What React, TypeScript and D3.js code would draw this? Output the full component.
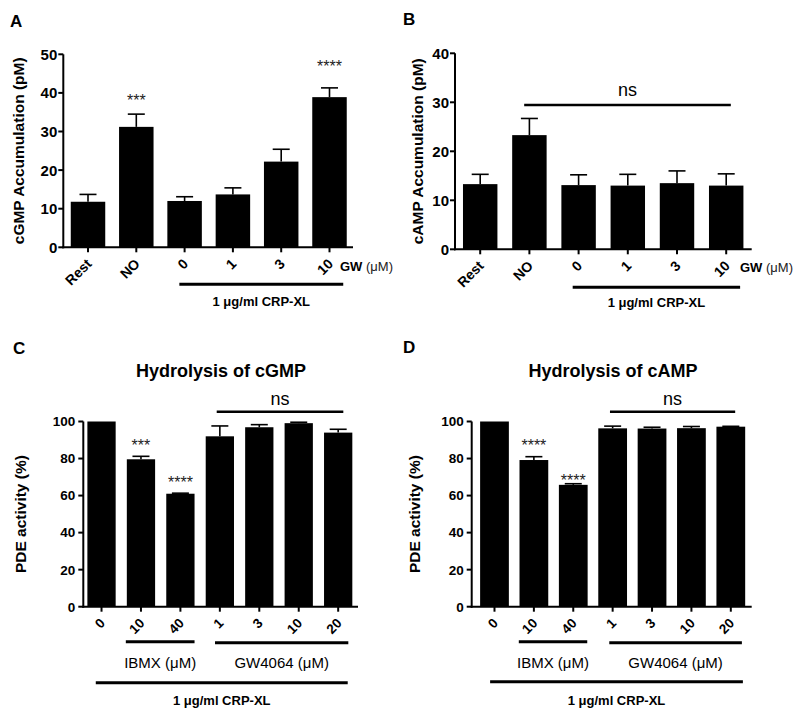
import React from "react";
import * as d3 from "d3";

// ---------- DATA ----------
const catsA = ["Rest", "NO", "0", "1", "3", "10"];
const valsA = [11.8, 31.2, 12.0, 13.7, 22.2, 38.9];
const errsA = [1.9, 3.3, 1.1, 1.7, 3.2, 2.4];
const starsA = ["", "***", "", "", "", "****"];
const starYA = [0, 36.6, 0, 0, 0, 45.3];
const ticksA = [0, 10, 20, 30, 40, 50];

const catsB = ["Rest", "NO", "0", "1", "3", "10"];
const valsB = [13.3, 23.3, 13.1, 13.0, 13.5, 13.0];
const errsB = [2.0, 3.4, 2.1, 2.3, 2.5, 2.4];
const ticksB = [0, 10, 20, 30, 40];

const catsC = ["0", "10", "40", "1", "3", "10", "20"];
const valsC = [100, 79.6, 61.0, 92.0, 96.9, 99.1, 94.0];
const errsC = [0, 1.6, 0.3, 5.6, 1.4, 0.5, 1.8];
const starsC = ["", "***", "****", "", "", "", ""];
const starYC = [0, 84.1, 64.1, 0, 0, 0, 0];

const catsD = ["0", "10", "40", "1", "3", "10", "20"];
const valsD = [100, 79.2, 65.8, 96.3, 96.2, 96.4, 97.2];
const errsD = [0, 1.8, 0.6, 1.2, 0.7, 0.9, 0.2];
const starsD = ["", "****", "****", "", "", "", ""];
const starYD = [0, 83.9, 65.3, 0, 0, 0, 0];
const ticksCD = [0, 20, 40, 60, 80, 100];

const MU = "\u03BC";
const CRP_LABEL = `1 ${MU}g/ml CRP-XL`;
const IBMX_LABEL = `IBMX (${MU}M)`;
const GW4064_LABEL = `GW4064 (${MU}M)`;
const GW_UNIT = `(${MU}M)`;

const FONT = "'Liberation Sans', Arial, Helvetica, sans-serif";

type Bracket = {
  from: number;
  to: number;
  dx0: number;
  dx1: number;
  y: number;
  w: number;
  label?: string;
  labelY?: number;
  bold?: boolean;
  size?: number;
};

type Panel = {
  letter: string;
  letterX: number;
  letterY: number;
  cats: string[];
  vals: number[];
  errs: number[];
  stars?: string[];
  starY?: number[];
  ticks: number[];
  yMax: number;
  axisX: number;
  axisEnd: number;
  y0: number;
  yTop: number;
  band: [number, number];
  pad: number;
  yLabel: string;
  yLabelX: number;
  title?: string;
  titleX?: number;
  titleY?: number;
  ns?: { from: number; to: number; dx0: number; dx1: number; v: number; labelDy: number };
  brackets: Bracket[];
  gwLabel?: { x: number; y: number };
  tickFont: number;
  xTickFont: number;
  tickGap: number;
};

const panels: Panel[] = [
  {
    letter: "A",
    letterX: 10,
    letterY: 27,
    cats: catsA,
    vals: valsA,
    errs: errsA,
    stars: starsA,
    starY: starYA,
    ticks: ticksA,
    yMax: 50,
    axisX: 63.3,
    axisEnd: 353,
    y0: 247.3,
    yTop: 54.3,
    band: [63.85, 353.65],
    pad: 0.286,
    yLabel: "cGMP Accumulation (pM)",
    yLabelX: 23.5,
    brackets: [
      { from: 2, to: 5, dx0: 12, dx1: -3.5, y: 284.3, w: 3, label: CRP_LABEL, labelY: 306, bold: true, size: 13 },
    ],
    gwLabel: { x: 340, y: 271 },
    tickFont: 15,
    xTickFont: 14,
    tickGap: 6,
  },
  {
    letter: "B",
    letterX: 403,
    letterY: 25,
    cats: catsB,
    vals: valsB,
    errs: errsB,
    ticks: ticksB,
    yMax: 40,
    axisX: 455,
    axisEnd: 751.7,
    y0: 249.3,
    yTop: 53.3,
    band: [455.6, 750.8],
    pad: 0.3,
    yLabel: "cAMP Accumulation (pM)",
    yLabelX: 423,
    ns: { from: 1, to: 5, dx0: 12, dx1: -12.6, v: 29.45, labelDy: -8.5 },
    brackets: [
      { from: 2, to: 5, dx0: 11.3, dx1: -3.3, y: 287.3, w: 3, label: CRP_LABEL, labelY: 307, bold: true, size: 13 },
    ],
    gwLabel: { x: 740, y: 272 },
    tickFont: 15,
    xTickFont: 14,
    tickGap: 6,
  },
  {
    letter: "C",
    letterX: 13,
    letterY: 354,
    cats: catsC,
    vals: valsC,
    errs: errsC,
    stars: starsC,
    starY: starYC,
    ticks: ticksCD,
    yMax: 100,
    axisX: 83.3,
    axisEnd: 358,
    y0: 606.7,
    yTop: 421.5,
    band: [81.8, 357.9],
    pad: 0.283,
    yLabel: "PDE activity (%)",
    yLabelX: 26,
    title: "Hydrolysis of cGMP",
    titleX: 221,
    titleY: 377,
    ns: { from: 3, to: 6, dx0: 11, dx1: -9, v: 105.3, labelDy: -6.7 },
    brackets: [
      { from: 1, to: 2, dx0: -1, dx1: 0, y: 641.7, w: 3, label: IBMX_LABEL, labelY: 668, bold: false, size: 15 },
      { from: 3, to: 6, dx0: 9.3, dx1: -4, y: 642.7, w: 3, label: GW4064_LABEL, labelY: 668, bold: false, size: 15 },
      { from: 0, to: 6, dx0: 8.4, dx1: -4.6, y: 682.7, w: 3, label: CRP_LABEL, labelY: 704.5, bold: true, size: 13 },
    ],
    tickFont: 13.5,
    xTickFont: 13.5,
    tickGap: 8,
  },
  {
    letter: "D",
    letterX: 403,
    letterY: 353,
    cats: catsD,
    vals: valsD,
    errs: errsD,
    stars: starsD,
    starY: starYD,
    ticks: ticksCD,
    yMax: 100,
    axisX: 471.7,
    axisEnd: 751.7,
    y0: 606.7,
    yTop: 421.5,
    band: [474.8, 750.5],
    pad: 0.27,
    yLabel: "PDE activity (%)",
    yLabelX: 419.5,
    title: "Hydrolysis of cAMP",
    titleX: 613,
    titleY: 377,
    ns: { from: 3, to: 6, dx0: 11.7, dx1: -10, v: 105.3, labelDy: -6.7 },
    brackets: [
      { from: 1, to: 2, dx0: -0.7, dx1: -0.4, y: 641.7, w: 3, label: IBMX_LABEL, labelY: 668, bold: false, size: 15 },
      { from: 3, to: 6, dx0: 11, dx1: -3.3, y: 642.7, w: 3, label: GW4064_LABEL, labelY: 668, bold: false, size: 15 },
      { from: 0, to: 6, dx0: 10, dx1: -2.3, y: 681.7, w: 3, label: CRP_LABEL, labelY: 704.5, bold: true, size: 13 },
    ],
    tickFont: 13.5,
    xTickFont: 13.5,
    tickGap: 8,
  },
];

function PanelView({ p }: { p: Panel }) {
  const idx = p.cats.map((_, i) => String(i));
  const x = d3.scaleBand<string>().domain(idx).range(p.band).paddingInner(p.pad).paddingOuter(p.pad / 2);
  const y = d3.scaleLinear().domain([0, p.yMax]).range([p.y0, p.yTop]);
  const bw = x.bandwidth();
  const cap = 17;
  const xs = (i: number) => x(String(i)) as number;
  const yMid = (p.y0 + p.yTop) / 2;

  return (
    <g>
      <text x={p.letterX} y={p.letterY} fontSize={17} fontWeight="bold" fontFamily={FONT}>
        {p.letter}
      </text>
      {p.title && (
        <text x={p.titleX} y={p.titleY} textAnchor="middle" fontSize={18} fontWeight="bold" fontFamily={FONT}>
          {p.title}
        </text>
      )}
      <text
        transform={`translate(${p.yLabelX},${yMid}) rotate(-90)`}
        textAnchor="middle"
        fontSize={15.5}
        fontWeight="bold"
        fontFamily={FONT}
      >
        {p.yLabel}
      </text>
      {p.vals.map((v, i) => (
        <rect key={"b" + i} x={xs(i)} y={y(v)} width={bw} height={p.y0 - y(v)} fill="#000" />
      ))}
      {p.vals.map((v, i) =>
        p.errs[i] > 0 ? (
          <g key={"e" + i} stroke="#000" strokeWidth={1.6}>
            <line x1={xs(i) + bw / 2} x2={xs(i) + bw / 2} y1={y(v)} y2={y(v + p.errs[i])} />
            <line
              x1={xs(i) + bw / 2 - cap / 2}
              x2={xs(i) + bw / 2 + cap / 2}
              y1={y(v + p.errs[i])}
              y2={y(v + p.errs[i])}
            />
          </g>
        ) : null
      )}
      <line x1={p.axisX} x2={p.axisX} y1={p.yTop} y2={p.y0 + 1} stroke="#000" strokeWidth={2} />
      {p.ticks.map((t) => (
        <g key={"t" + t}>
          <line x1={p.axisX - 5} x2={p.axisX} y1={y(t)} y2={y(t)} stroke="#000" strokeWidth={2} />
          <text
            x={p.axisX - p.tickGap}
            y={y(t)}
            dy="0.36em"
            textAnchor="end"
            fontSize={p.tickFont}
            fontWeight="bold"
            fontFamily={FONT}
          >
            {t}
          </text>
        </g>
      ))}
      <line x1={p.axisX - 1} x2={p.axisEnd} y1={p.y0} y2={p.y0} stroke="#000" strokeWidth={2} />
      {p.cats.map((c, i) => {
        const cx = xs(i) + bw / 2;
        return (
          <g key={"x" + i}>
            <line x1={cx} x2={cx} y1={p.y0} y2={p.y0 + 5} stroke="#000" strokeWidth={2} />
            <text
              transform={`translate(${cx + 1},${p.y0 + 14}) rotate(-45)`}
              dy="0.35em"
              textAnchor="end"
              fontSize={p.xTickFont}
              fontWeight="bold"
              fontFamily={FONT}
            >
              {c}
            </text>
          </g>
        );
      })}
      {p.stars &&
        p.stars.map((s, i) =>
          s ? (
            <text
              key={"s" + i}
              x={xs(i) + bw / 2}
              y={y(p.starY![i])}
              textAnchor="middle"
              fontSize={16}
              fill="#222"
              fontFamily={FONT}
            >
              {s}
            </text>
          ) : null
        )}
      {p.ns && (
        <g>
          <line
            x1={xs(p.ns.from) + p.ns.dx0}
            x2={xs(p.ns.to) + bw + p.ns.dx1}
            y1={y(p.ns.v)}
            y2={y(p.ns.v)}
            stroke="#000"
            strokeWidth={2.5}
          />
          <text
            x={(xs(p.ns.from) + p.ns.dx0 + xs(p.ns.to) + bw + p.ns.dx1) / 2}
            y={y(p.ns.v) + p.ns.labelDy}
            textAnchor="middle"
            fontSize={18}
            fontFamily={FONT}
          >
            ns
          </text>
        </g>
      )}
      {p.brackets.map((b, k) => {
        const x1 = xs(b.from) + b.dx0;
        const x2 = xs(b.to) + bw + b.dx1;
        return (
          <g key={"k" + k}>
            <line x1={x1} x2={x2} y1={b.y} y2={b.y} stroke="#000" strokeWidth={b.w} />
            {b.label && (
              <text
                x={(x1 + x2) / 2}
                y={b.labelY}
                textAnchor="middle"
                fontSize={b.size}
                fontWeight={b.bold ? "bold" : "normal"}
                fontFamily={FONT}
              >
                {b.label}
              </text>
            )}
          </g>
        );
      })}
      {p.gwLabel && (
        <text x={p.gwLabel.x} y={p.gwLabel.y} fontSize={13} fontFamily={FONT}>
          <tspan fontWeight="bold">GW </tspan>
          <tspan fill="#222">{GW_UNIT}</tspan>
        </text>
      )}
    </g>
  );
}

export default function App() {
  return (
    <svg
      width={800}
      height={718}
      viewBox="0 0 800 718"
      style={{ position: "absolute", left: 0, top: 0, background: "#fff" }}
    >
      <rect x={0} y={0} width={800} height={718} fill="#fff" />
      {panels.map((p) => (
        <PanelView key={p.letter} p={p} />
      ))}
    </svg>
  );
}
